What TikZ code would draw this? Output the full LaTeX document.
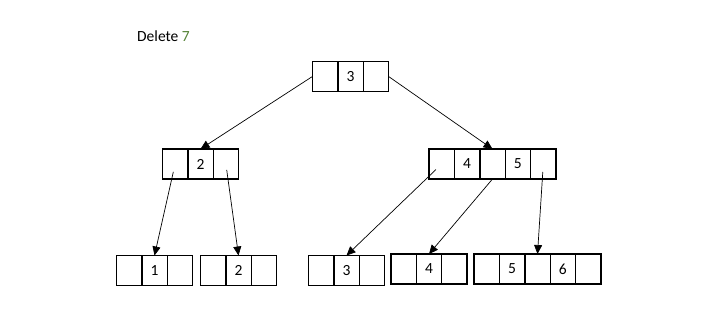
\documentclass[tikz,border=0pt]{standalone}
\usepackage{fontspec}
\setmainfont{Carlito}
\usepackage{xcolor}
\usetikzlibrary{arrows.meta, positioning}
\definecolor{keygreen}{RGB}{84,130,53}

\begin{document}
\begin{tikzpicture}[
    x=1pt, y=-1pt,
    cell/.style={rectangle, draw, line width=1.4pt, inner sep=0pt, outer sep=0pt, minimum width=25.4pt, minimum height=30pt, font=\fontsize{15.5}{18}\selectfont},
    ptr/.style={-{Triangle[length=9pt, width=8pt]}, line width=0.7pt},
    node distance=0pt
]
    \useasboundingbox (0,0) rectangle (701,330);
    \node[anchor=base west, inner sep=0pt, font=\fontsize{15.5}{18}\selectfont] (title) at (137,41) {Delete \textcolor{keygreen}{7}};

    % root
    \node[cell] (r2) at (350.5,76.5) {3};
    \node[cell, left=of r2] (r1) {};
    \node[cell, right=of r2] (r3) {};

    % second level
    \node[cell] (a2) at (200.5,164) {2};
    \node[cell, left=of a2] (a1) {};
    \node[cell, right=of a2] (a3) {};

    \node[cell] (b3) at (492.5,164) {};
    \node[cell, left=of b3] (b2) {4};
    \node[cell, left=of b2] (b1) {};
    \node[cell, right=of b3] (b4) {5};
    \node[cell, right=of b4] (b5) {};

    % leaves
    \node[cell] (p2) at (154.5,270.5) {1};
    \node[cell, left=of p2] (p1) {};
    \node[cell, right=of p2] (p3) {};

    \node[cell] (q2) at (238.5,270.5) {2};
    \node[cell, left=of q2] (q1) {};
    \node[cell, right=of q2] (q3) {};

    \node[cell] (s2) at (346.5,270.5) {3};
    \node[cell, left=of s2] (s1) {};
    \node[cell, right=of s2] (s3) {};

    \node[cell] (t2) at (429,269) {4};
    \node[cell, left=of t2] (t1) {};
    \node[cell, right=of t2] (t3) {};

    \node[cell] (u3) at (537.5,269) {};
    \node[cell, left=of u3] (u2) {5};
    \node[cell, left=of u2] (u1) {};
    \node[cell, right=of u3] (u4) {6};
    \node[cell, right=of u4] (u5) {};

    % pointers
    \draw[ptr] (r1.west) -- (a2.north);
    \draw[ptr] (r3.east) -- (b3.north);
    \draw[ptr, shorten <=8pt] (a1.center) -- (p2.north);
    \draw[ptr, shorten <=6pt] (a3.center) -- (q2.north);
    \draw[ptr, shorten <=8pt] (b1.center) -- (s2.north);
    \draw[ptr] (b3.south) -- (t2.north);
    \draw[ptr, shorten <=8pt] (b5.center) -- (u3.north);
\end{tikzpicture}
\end{document}
